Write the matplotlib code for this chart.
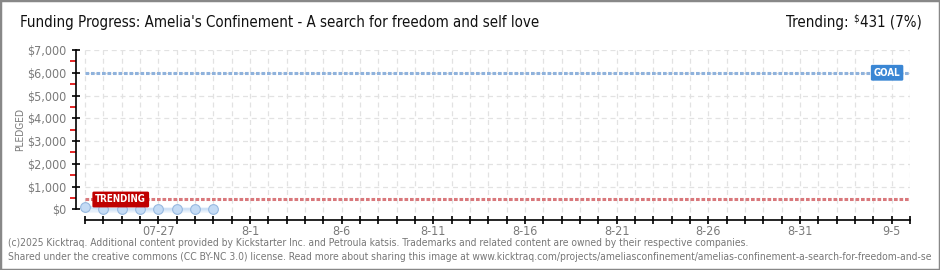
"""
Kicktraq-style funding progress chart.
"""

import matplotlib
matplotlib.use("Agg")
import matplotlib.pyplot as plt

matplotlib.rcParams["font.family"] = "DejaVu Sans"
matplotlib.rcParams["font.stretch"] = "condensed"

# -- data ---------------------------------------------------------------------
days = [0, 1, 2, 3, 4, 5, 6, 7]                  # days since 07-23
pledged = [115, 10, 10, 10, 10, 10, 10, 10]
goal = 6000
trending = 431

tick_days = [4, 9, 14, 19, 24, 29, 34, 39, 44]
tick_labels = ["07-27", "8-1", "8-6", "8-11", "8-16", "8-21", "8-26", "8-31", "9-5"]
y_ticks = [0, 1000, 2000, 3000, 4000, 5000, 6000, 7000]
y_labels = ["\\$0", "\\$1,000", "\\$2,000", "\\$3,000", "\\$4,000",
            "\\$5,000", "\\$6,000", "\\$7,000"]
n_days = 45

# -- colours ------------------------------------------------------------------
C_GRID = "#e2e2e2"
C_GOAL = "#8fb2dc"
C_GOAL_BOX = "#3a86d4"
C_TREND = "#d9787c"
C_TREND_BOX = "#c00000"
C_PT = "#c4dbf5"
C_PT_EDGE = "#97b9e0"
C_LABEL = "#7a7a7a"

W, H = 940, 270
fig = plt.figure(figsize=(W / 100, H / 100), dpi=100)
ax = fig.add_axes([76 / W, 1 - 220 / H, (910 - 76) / W, (220 - 50) / H])

ax.set_xlim(-0.49, n_days)
ax.set_ylim(-470, 7000)

# grid
for d in range(n_days + 1):
    ax.plot([d, d], [-120, 7000], color=C_GRID, lw=0.9, ls=(0, (4, 3)), zorder=1)
for v in y_ticks[1:]:
    ax.plot([0, n_days], [v, v], color=C_GRID, lw=0.9, ls=(0, (4, 3)), zorder=1)

# goal & trending lines
ax.plot([0, n_days], [goal, goal], color=C_GOAL, lw=2.2, ls=(0, (1.2, 0.6)), zorder=2)
ax.plot([0, n_days], [trending, trending], color=C_TREND, lw=2.2,
        ls=(0, (1.2, 0.6)), zorder=2)

ax.text(43.75, goal, "GOAL", ha="center", va="center", color="white",
        fontsize=7, fontweight="bold", zorder=5,
        bbox=dict(boxstyle="round,pad=0.3,rounding_size=0.15",
                  facecolor=C_GOAL_BOX, edgecolor="none"))
ax.text(1.95, trending, "TRENDING", ha="center", va="center", color="white",
        fontsize=7, fontweight="bold", zorder=5,
        bbox=dict(boxstyle="round,pad=0.3,rounding_size=0.15",
                  facecolor=C_TREND_BOX, edgecolor="none"))

# pledged series
ax.fill_between(days, pledged, -120, color="#e6f0fb", lw=0, zorder=2)
ax.plot(days, pledged, color="#cfe1f6", lw=2, zorder=3)
ax.plot(days, pledged, "o", ms=7, mfc=C_PT, mec=C_PT_EDGE, mew=0.8, zorder=4)

# axes styling
for s in ["top", "right"]:
    ax.spines[s].set_visible(False)
ax.spines["left"].set_bounds(0, 7000)
ax.spines["bottom"].set_bounds(0, n_days)
ax.spines["left"].set_linewidth(1.2)
ax.spines["bottom"].set_linewidth(1.2)

ax.set_yticks(y_ticks)
ax.set_yticklabels(y_labels)
ax.set_yticks([500, 1500, 2500, 3500, 4500, 5500, 6500], minor=True)
ax.tick_params(axis="y", which="major", direction="inout", length=6, width=1.2,
               labelsize=9, labelcolor=C_LABEL, pad=4)
ax.tick_params(axis="y", which="minor", direction="out", length=4, width=1.2,
               color="#dd0000")

ax.set_xticks(range(n_days + 1))
ax.set_xticklabels([""] * (n_days + 1))
ax.tick_params(axis="x", which="major", direction="inout", length=6, width=1.2)
for d, lab in zip(tick_days, tick_labels):
    ax.annotate(lab, (d, 0), xycoords=("data", "axes fraction"),
                xytext=(0, -5), textcoords="offset pixels",
                ha="center", va="top", fontsize=9, color=C_LABEL)

fig.text(20 / W, 1 - 130 / H, "PLEDGED", rotation=90, ha="center",
         va="center", fontsize=7.3, color=C_LABEL)

# titles
fig.text(20 / W, 1 - 22 / H,
         "Funding Progress: Amelia's Confinement - A search for freedom and self love",
         ha="left", va="center", fontsize=10.8, color="#111111")
t_val = fig.text(922 / W, 1 - 22 / H, "431 (7%)", ha="right", va="center",
                 fontsize=10.8, color="#111111")
ax.annotate("\\$", xy=(0, 1), xycoords=t_val, xytext=(-1, 1),
            textcoords="offset pixels", ha="right", va="top",
            fontsize=7, color="#111111", annotation_clip=False)
ax.annotate("Trending:", xy=(0, 0), xycoords=t_val, xytext=(-12, 0),
            textcoords="offset pixels", ha="right", va="bottom",
            fontsize=10.8, color="#111111", annotation_clip=False)

# footer
fig.text(8 / W, 1 - 243 / H,
         "(c)2025 Kicktraq. Additional content provided by Kickstarter Inc. and Petroula katsis. "
         "Trademarks and related content are owned by their respective companies.",
         ha="left", va="center", fontsize=7.35, color="#777777")
fig.text(8 / W, 1 - 257 / H,
         "Shared under the creative commons (CC BY-NC 3.0) license. Read more about sharing this image at "
         "www.kicktraq.com/projects/ameliasconfinement/amelias-confinement-a-search-for-freedom-and-se",
         ha="left", va="center", fontsize=7.35, color="#777777")

# frame
fig.patches.append(plt.Rectangle((0, 0), 1, 1, transform=fig.transFigure,
                                 fill=False, edgecolor="#888888", lw=2.5))

fig.savefig("out.png", dpi=100)
